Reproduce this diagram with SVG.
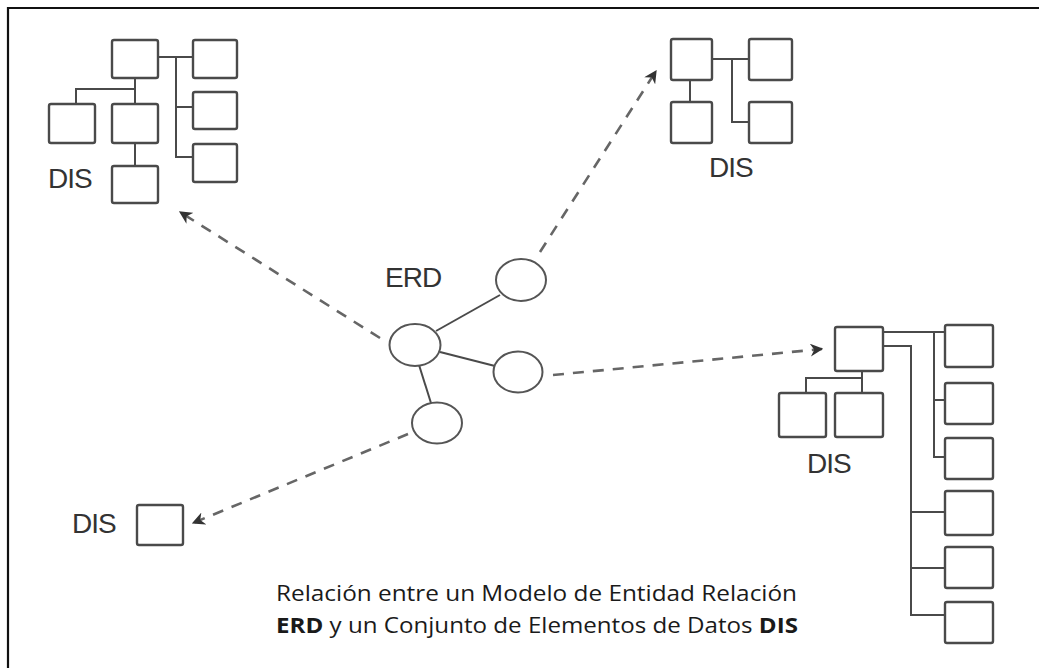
<svg xmlns="http://www.w3.org/2000/svg" width="1039" height="668" viewBox="0 0 1039 668">
<defs>
<style>
.box{fill:#fff;stroke:#4a4a4a;stroke-width:2.4}
.ln{fill:none;stroke:#4a4a4a;stroke-width:2}
.ell{fill:#fff;stroke:#555;stroke-width:2}
.dash{fill:none;stroke:#666;stroke-width:2.6;stroke-dasharray:11 9}
.lbl{font-family:"Liberation Sans",Arial,sans-serif;font-size:28px;fill:#333;letter-spacing:-1px}
.cap{font-family:"Open Sans","Liberation Sans",sans-serif;font-size:22px;fill:#1a1a1a}
</style>
<marker id="ah" viewBox="0 0 10 10" refX="9" refY="5" markerWidth="5" markerHeight="5" orient="auto" markerUnits="strokeWidth">
<path d="M0,0 L10,5 L0,10 L3,5 z" fill="#333"/>
</marker>
</defs>
<rect x="0" y="0" width="1039" height="668" fill="#fff"/>
<path d="M8,668 L8,8 L1039,8" fill="none" stroke="#111" stroke-width="2.2"/>

<g id="connectors">
<line class="ln" x1="436" y1="331" x2="500" y2="295"/>
<line class="ln" x1="440" y1="352" x2="495" y2="366"/>
<line class="ln" x1="419" y1="365" x2="431" y2="403"/>
<line class="dash" x1="380" y1="338" x2="180" y2="212" marker-end="url(#ah)"/>
<line class="dash" x1="540" y1="252" x2="656" y2="71" marker-end="url(#ah)"/>
<line class="dash" x1="553" y1="375" x2="822" y2="349" marker-end="url(#ah)"/>
<line class="dash" x1="408" y1="434" x2="193" y2="523" marker-end="url(#ah)"/>
</g>

<g id="erd">
<text class="lbl" x="385" y="287">ERD</text>
<ellipse class="ell" cx="415" cy="345" rx="25.5" ry="21"/>
<ellipse class="ell" cx="521" cy="280" rx="25" ry="21"/>
<ellipse class="ell" cx="518" cy="372" rx="24.5" ry="20.5"/>
<ellipse class="ell" cx="437" cy="423" rx="25" ry="20.5"/>
</g>

<g id="dis-topleft">
<path class="ln" d="M158,57 H193 M176,57 V157 H193 M176,107 H193 M135,78 V104 M135,89 H76 V104 M135,143 V166"/>
<rect class="box" x="112" y="40" width="46" height="38" rx="2"/>
<rect class="box" x="193" y="40" width="44" height="38" rx="2"/>
<rect class="box" x="193" y="92" width="44" height="37" rx="2"/>
<rect class="box" x="193" y="144" width="44" height="38" rx="2"/>
<rect class="box" x="49" y="104" width="46" height="39" rx="2"/>
<rect class="box" x="112" y="104" width="46" height="39" rx="2"/>
<rect class="box" x="112" y="166" width="46" height="37" rx="2"/>
<text class="lbl" x="48" y="188">DIS</text>
</g>

<g id="dis-topright">
<path class="ln" d="M712,59 H749 M732,59 V122 H749 M690,80 V102"/>
<rect class="box" x="671" y="39" width="41" height="41" rx="2"/>
<rect class="box" x="749" y="39" width="43" height="41" rx="2"/>
<rect class="box" x="671" y="102" width="41" height="41" rx="2"/>
<rect class="box" x="749" y="102" width="43" height="41" rx="2"/>
<text class="lbl" x="709" y="177">DIS</text>
</g>

<g id="dis-right">
<path class="ln" d="M883,332 H945 M934,332 V457 H945 M934,400 H945 M883,346 H911 V615 H945 M911,512 H945 M911,568 H945 M862,371 V393 M862,378 H806 V393"/>
<rect class="box" x="835" y="327" width="48" height="44" rx="2"/>
<rect class="box" x="779" y="393" width="47" height="44" rx="2"/>
<rect class="box" x="835" y="393" width="48" height="44" rx="2"/>
<rect class="box" x="945" y="325" width="48" height="42" rx="2"/>
<rect class="box" x="945" y="383" width="48" height="41" rx="2"/>
<rect class="box" x="945" y="438" width="48" height="41" rx="2"/>
<rect class="box" x="945" y="491" width="48" height="44" rx="2"/>
<rect class="box" x="945" y="547" width="48" height="41" rx="2"/>
<rect class="box" x="945" y="602" width="48" height="41" rx="2"/>
<text class="lbl" x="807" y="473">DIS</text>
</g>

<g id="dis-bottomleft">
<rect class="box" x="137" y="505" width="46" height="40" rx="2"/>
<text class="lbl" x="72" y="533">DIS</text>
</g>

<g id="caption">
<text class="cap" x="276" y="601" textLength="521" lengthAdjust="spacingAndGlyphs">Relación entre un Modelo de Entidad Relación</text>
<text class="cap" x="276" y="633" textLength="522" lengthAdjust="spacingAndGlyphs"><tspan font-weight="bold">ERD</tspan> y un Conjunto de Elementos de Datos <tspan font-weight="bold">DIS</tspan></text>
</g>
</svg>
